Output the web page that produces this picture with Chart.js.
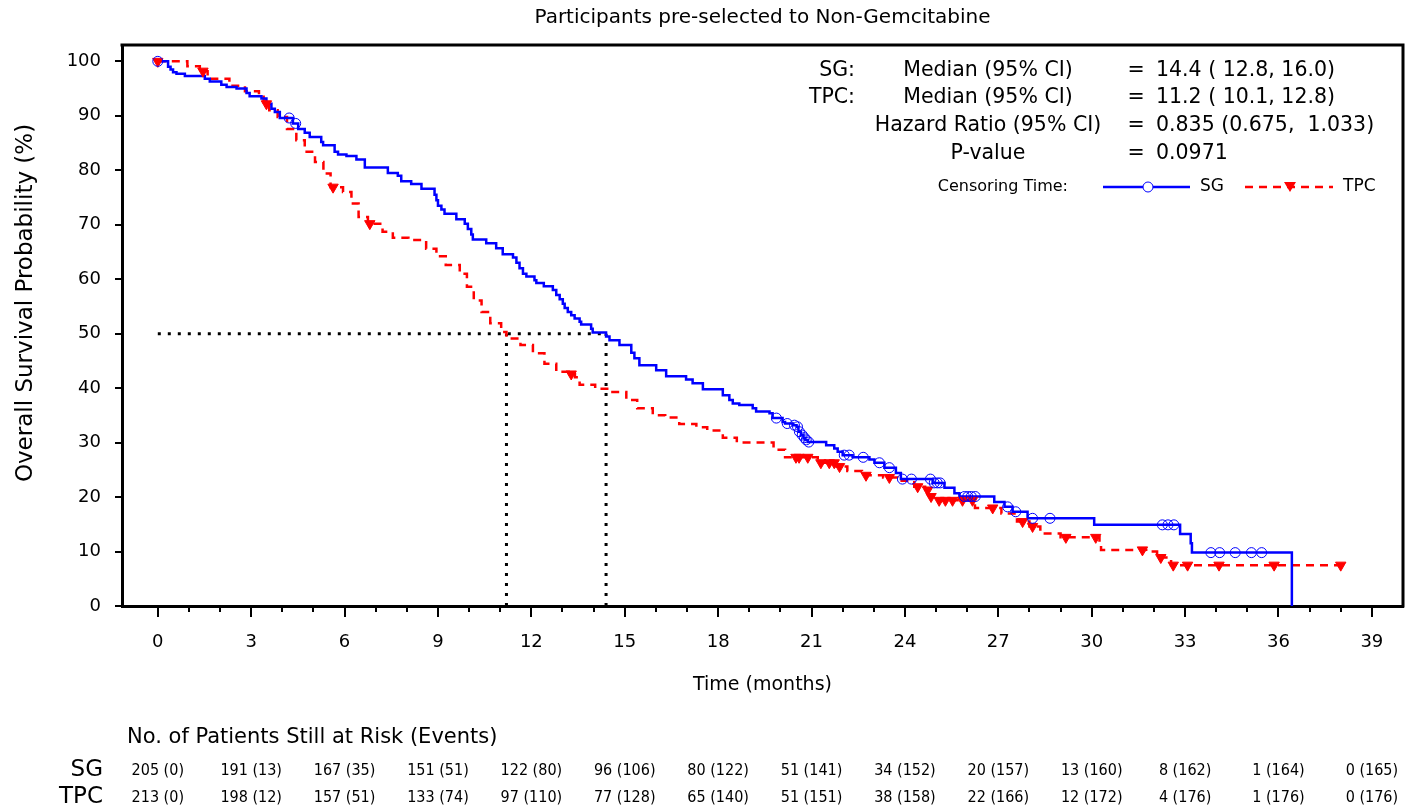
<!DOCTYPE html>
<html>
<head>
<meta charset="utf-8">
<script src="https://cdn.jsdelivr.net/npm/chart.js@4.4.1/dist/chart.umd.min.js"></script>
<style>
  html, body { margin: 0; padding: 0; background: #fff; }
  #wrap { width: 1415px; height: 811px; }
</style>
</head>
<body>
<div id="wrap"><canvas id="km" width="1415" height="811"></canvas></div>
<script>
// Kaplan-Meier steps (time in months, survival in %)
const sgTime = [0, 0.33, 0.41, 0.49, 0.60, 0.87, 1.51, 1.67, 2.04, 2.21, 2.53, 2.85, 2.95, 3.33, 3.49, 3.65, 3.76, 3.92,
  4.34, 4.51, 4.72, 4.88, 5.25, 5.31, 5.68, 5.79, 6.06, 6.38, 6.65, 7.39, 7.71, 7.82, 8.14, 8.47, 8.89, 8.95, 9.00, 9.11,
  9.21, 9.59, 9.86, 9.96, 10.07, 10.12, 10.55, 10.87, 11.08, 11.41, 11.52, 11.62, 11.73, 11.84, 12.10, 12.16, 12.40,
  12.69, 12.80, 12.91, 13.01, 13.07, 13.17, 13.28, 13.39, 13.55, 13.60, 13.92, 13.97, 14.40, 14.51, 14.83, 15.21, 15.31,
  15.47, 16.01, 16.33, 16.97, 17.18, 17.51, 18.15, 18.36, 18.47, 18.68, 19.11, 19.22, 19.65, 19.75, 20.07, 20.15, 20.40,
  20.52, 20.58, 20.66, 20.74, 20.80, 20.88, 21.47, 21.73, 21.84, 22.00, 22.32, 22.86, 23.02, 23.34, 23.71, 23.87, 24.89,
  25.27, 25.59, 25.75, 26.87, 27.20, 27.46, 27.94, 30.08, 32.84, 33.18, 33.22, 36.43];
const sgSurv = [100, 99.0, 98.5, 98.0, 97.7, 97.3, 96.8, 96.3, 95.7, 95.3, 95.0, 94.2, 93.6, 93.2, 92.2, 91.3, 90.7, 89.6,
  88.6, 87.6, 86.9, 86.1, 85.2, 84.6, 83.4, 82.9, 82.6, 82.0, 80.5, 79.5, 79.0, 78.0, 77.5, 76.6, 75.5, 74.5, 73.5, 72.8,
  72.0, 71.0, 70.2, 69.2, 68.2, 67.3, 66.6, 65.7, 64.6, 64.0, 63.0, 62.0, 61.0, 60.5, 59.8, 59.3, 58.7,
  58.0, 57.1, 56.3, 55.5, 54.7, 54.0, 53.4, 52.8, 52.2, 51.7, 50.9, 50.2, 49.5, 48.8, 47.9, 46.5, 45.5,
  44.2, 43.3, 42.2, 41.6, 40.9, 39.8, 38.7, 37.8, 37.2, 36.9, 36.3, 35.7, 35.4, 34.5, 33.8, 33.5, 33.2,
  32.9, 32.0, 31.4, 30.9, 30.5, 30.1, 29.5, 28.9, 28.3, 27.7, 27.3, 26.9, 26.3, 25.4, 24.4, 23.3, 22.6,
  21.7, 20.7, 20.1, 19.1, 18.2, 17.3, 16.1, 14.9, 13.2, 11.5, 9.8, 0];
const sgCensTime = [0, 4.22, 4.43, 19.87, 20.22, 20.45, 20.55, 20.61, 20.70, 20.77, 20.83, 20.91, 22.05, 22.21, 22.66,
  23.18, 23.50, 23.92, 24.21, 24.82, 24.94, 25.04, 25.13, 25.91, 26.02, 26.13, 26.26, 27.30, 27.56, 28.10, 28.66,
  32.27, 32.45, 32.64, 33.83, 34.11, 34.61, 35.13, 35.46];
const sgCensSurv = [100, 89.6, 88.6, 34.5, 33.5, 33.2, 32.9, 32.0, 31.4, 30.9, 30.5, 30.1, 27.7, 27.7, 27.3,
  26.3, 25.4, 23.3, 23.3, 23.3, 22.6, 22.6, 22.6, 20.1, 20.1, 20.1, 20.1, 18.2, 17.3, 16.1, 16.1,
  14.9, 14.9, 14.9, 9.8, 9.8, 9.8, 9.8, 9.8];

const tpcTime = [0, 0.95, 1.35, 1.60, 2.30, 2.80, 3.25, 3.40, 3.58, 3.85, 4.15, 4.45, 4.72, 5.05, 5.32, 5.55, 5.95, 6.22,
  6.45, 6.75, 7.22, 7.55, 8.05, 8.62, 8.95, 9.25, 9.70, 9.93, 10.15, 10.40, 10.68, 11.03, 11.20, 11.65, 12.05, 12.42,
  12.80, 13.20, 13.40, 13.55, 14.05, 14.55, 15.05, 15.40, 15.90, 16.30, 16.75, 17.30, 17.65, 18.15, 18.60, 19.78, 20.15,
  21.20, 21.80, 22.15, 22.62, 23.30, 23.75, 24.30, 24.65, 24.78, 25.00, 26.25, 27.10, 27.60, 28.00, 28.35, 29.00, 30.25,
  30.30, 31.75, 32.10, 32.55, 38.00];
const tpcSurv = [100, 99.1, 98.2, 96.8, 95.5, 94.5, 93.5, 92.2, 91.0, 89.8, 87.6, 85.5, 83.4, 81.5, 79.4, 76.9, 76.0, 73.9,
  71.4, 70.2, 68.7, 67.6, 67.2, 65.6, 64.2, 62.6, 61.0, 58.6, 56.1, 54.0, 51.9, 50.3, 49.1, 47.9, 46.4, 44.5,
  43.0, 42.6, 42.0, 40.6, 39.9, 39.3, 37.8, 36.3, 35.0, 34.6, 33.4, 32.8, 32.2, 30.9, 30.0, 28.7, 27.3,
  26.3, 25.6, 24.8, 24.0, 23.6, 23.0, 21.9, 21.3, 20.1, 19.4, 18.0, 17.0, 15.5, 14.6, 13.3, 12.6, 11.5,
  10.3, 10.0, 8.9, 7.5, 7.5];
const tpcCensTime = [0, 1.45, 3.49, 5.63, 6.81, 13.28, 20.50, 20.60, 20.88, 21.30, 21.57, 21.73, 21.90, 22.75, 23.50,
  24.41, 24.73, 24.84, 25.10, 25.30, 25.53, 25.85, 26.17, 26.82, 27.78, 28.10, 29.17, 30.13, 31.63, 32.22, 32.62,
  33.08, 34.09, 35.86, 38.00];
const tpcCensSurv = [100, 98.2, 92.2, 76.9, 70.2, 42.6, 27.3, 27.3, 27.3, 26.3, 26.3, 26.3, 25.6, 24.0, 23.6,
  21.9, 21.3, 20.1, 19.4, 19.4, 19.4, 19.4, 19.4, 18.0, 15.5, 14.6, 12.6, 12.6, 10.3, 8.9, 7.5,
  7.5, 7.5, 7.5, 7.5];

const medians = [14.4, 11.2];   // SG, TPC

const xTicks = [0, 3, 6, 9, 12, 15, 18, 21, 24, 27, 30, 33, 36, 39];
const yTicks = [0, 10, 20, 30, 40, 50, 60, 70, 80, 90, 100];

const sgAtRisk = [205, 191, 167, 151, 122, 96, 80, 51, 34, 20, 13, 8, 1, 0];
const sgEvents = [0, 13, 35, 51, 80, 106, 122, 141, 152, 157, 160, 162, 164, 165];
const tpcAtRisk = [213, 198, 157, 133, 97, 77, 65, 51, 38, 22, 12, 4, 1, 0];
const tpcEvents = [0, 12, 51, 74, 110, 128, 140, 151, 158, 166, 172, 176, 176, 176];

const statLabels = ['SG:', 'TPC:', '', ''];
const statNames = ['Median (95% CI)', 'Median (95% CI)', 'Hazard Ratio (95% CI)', 'P-value'];
const statValues = ['14.4 ( 12.8, 16.0)', '11.2 ( 10.1, 12.8)', '0.835 (0.675,  1.033)', '0.0971'];

const BLUE = '#0000ff';
const RED = '#ff0000';
const FONT = '"DejaVu Sans", Verdana, sans-serif';

function pts(xs, ys) {
  return xs.map((x, i) => ({ x: x, y: ys[i] }));
}

const extras = {
  id: 'extras',
  afterDraw(chart) {
    const ctx = chart.ctx;
    const a = chart.chartArea;
    const xs = chart.scales.x;
    ctx.save();
    // frame top / right
    ctx.strokeStyle = '#000';
    ctx.lineWidth = 3;
    ctx.beginPath();
    ctx.moveTo(a.left - 1.5, a.top);
    ctx.lineTo(a.right, a.top);
    ctx.lineTo(a.right, a.bottom + 1.5);
    ctx.stroke();
    // minor ticks
    ctx.lineWidth = 2;
    for (let m = 1; m < 40; m++) {
      if (m % 3 === 0) continue;
      const px = Math.round(xs.getPixelForValue(m));
      ctx.beginPath();
      ctx.moveTo(px, a.bottom);
      ctx.lineTo(px, a.bottom + 6);
      ctx.stroke();
    }

    ctx.fillStyle = '#000';
    ctx.textBaseline = 'middle';
    // title
    ctx.textAlign = 'center';
    ctx.font = '20px ' + FONT;
    ctx.fillText('Participants pre-selected to Non-Gemcitabine', (a.left + a.right) / 2, 18);
    // axis titles
    ctx.font = '19px ' + FONT;
    ctx.fillText('Time (months)', (a.left + a.right) / 2, 685);
    ctx.save();
    ctx.translate(26, 303);
    ctx.rotate(-Math.PI / 2);
    ctx.font = '23px ' + FONT;
    ctx.fillText('Overall Survival Probability (%)', 0, 0);
    ctx.restore();

    // statistics block
    const rowY = [71, 98, 126, 154];
    ctx.font = '20.5px ' + FONT;
    for (let i = 0; i < 4; i++) {
      ctx.textAlign = 'right';
      ctx.fillText(statLabels[i], 855, rowY[i]);
      ctx.textAlign = 'center';
      ctx.fillText(statNames[i], 988, rowY[i]);
      ctx.fillText('=', 1136, rowY[i]);
      ctx.textAlign = 'left';
      ctx.fillText(statValues[i], 1156, rowY[i]);
    }
    // censoring legend
    const ly = 187;
    ctx.font = '16px ' + FONT;
    ctx.textAlign = 'right';
    ctx.fillText('Censoring Time:', 1068, ly);
    ctx.font = '17px ' + FONT;
    ctx.textAlign = 'left';
    ctx.fillText('SG', 1200, ly);
    ctx.fillText('TPC', 1343, ly);
    ctx.strokeStyle = BLUE;
    ctx.lineWidth = 2.5;
    ctx.beginPath();
    ctx.moveTo(1103, ly); ctx.lineTo(1190, ly);
    ctx.stroke();
    ctx.lineWidth = 1;
    ctx.fillStyle = '#fff';
    ctx.beginPath();
    ctx.arc(1148, ly, 5, 0, Math.PI * 2);
    ctx.fill();
    ctx.stroke();
    ctx.strokeStyle = RED;
    ctx.lineWidth = 2.5;
    ctx.setLineDash([8, 6]);
    ctx.beginPath();
    ctx.moveTo(1245, ly); ctx.lineTo(1333, ly);
    ctx.stroke();
    ctx.setLineDash([]);
    ctx.fillStyle = RED;
    ctx.beginPath();
    ctx.moveTo(1284, ly - 5); ctx.lineTo(1296, ly - 5); ctx.lineTo(1290, ly + 5);
    ctx.closePath();
    ctx.fill();

    // risk table
    ctx.fillStyle = '#000';
    ctx.textAlign = 'left';
    ctx.font = '21px ' + FONT;
    ctx.fillText('No. of Patients Still at Risk (Events)', 127, 738);
    ctx.textAlign = 'right';
    ctx.font = '23px ' + FONT;
    ctx.fillText('SG', 103, 770);
    ctx.fillText('TPC', 103, 797);
    ctx.textAlign = 'center';
    ctx.font = '16px "DejaVu Sans Condensed", ' + FONT;
    xTicks.forEach((t, i) => {
      const px = xs.getPixelForValue(t);
      ctx.fillText(sgAtRisk[i] + ' (' + sgEvents[i] + ')', px, 771);
      ctx.fillText(tpcAtRisk[i] + ' (' + tpcEvents[i] + ')', px, 798);
    });
    ctx.restore();
  }
};

new Chart(document.getElementById('km'), {
  type: 'line',
  data: {
    datasets: [
      { label: 'SG censored', data: pts(sgCensTime, sgCensSurv), showLine: false, pointStyle: 'circle',
        pointRadius: 5, pointBorderColor: BLUE, pointBackgroundColor: 'rgba(0,0,0,0)', pointBorderWidth: 1 },
      { label: 'TPC censored', data: pts(tpcCensTime, tpcCensSurv), showLine: false, pointStyle: 'triangle',
        rotation: 180, pointRadius: 6, pointBorderColor: RED, pointBackgroundColor: RED, pointBorderWidth: 1 },
      { label: 'SG', data: pts(sgTime, sgSurv), stepped: true, borderColor: BLUE, borderWidth: 2.5, pointRadius: 0 },
      { label: 'TPC', data: pts(tpcTime, tpcSurv), stepped: true, borderColor: RED, borderWidth: 2.5,
        borderDash: [8, 6], pointRadius: 0 },
      { label: 'median h', data: [{ x: 0, y: 50 }, { x: Math.max(...medians), y: 50 }], borderColor: '#000',
        borderWidth: 3, borderDash: [3, 7], pointRadius: 0 },
      { label: 'median SG', data: [{ x: medians[0], y: 0 }, { x: medians[0], y: 50 }], borderColor: '#000',
        borderWidth: 3, borderDash: [3, 7], pointRadius: 0 },
      { label: 'median TPC', data: [{ x: medians[1], y: 0 }, { x: medians[1], y: 50 }], borderColor: '#000',
        borderWidth: 3, borderDash: [3, 7], pointRadius: 0 }
    ]
  },
  options: {
    responsive: false,
    animation: false,
    devicePixelRatio: 1,
    layout: { padding: { top: 45, right: 12, left: 0, bottom: 0 } },
    plugins: { legend: { display: false }, title: { display: false }, tooltip: { enabled: false } },
    scales: {
      x: {
        type: 'linear', min: -1.15, max: 40,
        afterBuildTicks: s => { s.ticks = xTicks.map(v => ({ value: v })); },
        afterFit: s => { s.height = 205; },
        ticks: { color: '#000', font: { family: FONT, size: 18 }, padding: 15, maxRotation: 0 },
        grid: { drawOnChartArea: false, drawTicks: true, tickLength: 11, color: '#000', lineWidth: 2 },
        border: { display: true, color: '#000', width: 3 }
      },
      y: {
        type: 'linear', min: 0, max: 103,
        afterBuildTicks: s => { s.ticks = yTicks.map(v => ({ value: v })); },
        afterFit: s => { s.width = 122; },
        ticks: { color: '#000', font: { family: FONT, size: 18 }, padding: 14 },
        grid: { drawOnChartArea: false, drawTicks: true, tickLength: 7, color: '#000', lineWidth: 2 },
        border: { display: true, color: '#000', width: 3 }
      }
    }
  },
  plugins: [extras]
});
</script>
</body>
</html>
